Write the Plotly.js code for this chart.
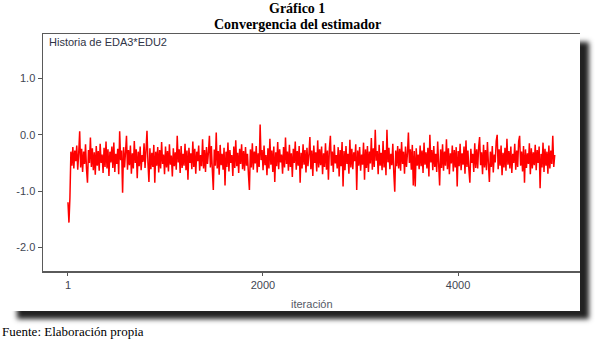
<!DOCTYPE html>
<html>
<head>
<meta charset="utf-8">
<script src="https://cdn.plot.ly/plotly-3.0.1.min.js"></script>
<style>
  html, body { margin: 0; padding: 0; background: #ffffff; }
  #wrap { position: relative; width: 595px; height: 339px; overflow: hidden; }
  #panel { position: absolute; left: 8px; top: 34px; width: 572px; height: 277px;
           background: #ffffff; box-shadow: 9px 8px 5px #222222; }
  #chart { position: absolute; left: 0; top: 0; width: 595px; height: 339px; }
</style>
</head>
<body>
<div id="wrap">
  <div id="panel"></div>
  <div id="chart"></div>
</div>
<script>
// Historia (traza MCMC) del coeficiente EDA3*EDU2, una muestra cada 10 iteraciones
const iteracionInicial = 1;
const pasoIteracion = 10;
const historiaEDA3EDU2 = [
  -1.2, -1.56, -1.12, -0.3, -0.55, -0.22, -0.6, -0.28, -0.47, -0.19, -0.62, -0.33, 0.06, -0.58, -0.25, -0.66, -0.3, -0.52, -0.17, -0.61,
  -0.85, -0.27, -0.5, -0.05, -0.57, -0.24, -0.63, -0.31, -0.71, -0.2, -0.55, -0.29, -0.64, -0.16, -0.5, -0.35, -0.68, -0.23, -0.57, -0.12,
  -0.6, -0.26, -0.73, -0.3, -0.49, -0.21, -0.59, -0.14, -0.66, -0.34, -0.52, -0.25, -0.7, 0.06, -0.45, -0.28, -1.03, -0.22, -0.58, -0.3,
  -0.02, -0.62, -0.27, -0.54, -0.19, -0.69, -0.33, -0.6, -0.11, -0.5, -0.26, -0.77, -0.3, -0.56, -0.21, -0.63, -0.36, -0.48, -0.15, -0.59,
  -0.28, 0.07, -0.5, -0.84, -0.24, -0.61, -0.32, -0.57, -0.18, -0.85, -0.3, -0.55, -0.22, -0.67, -0.27, -0.6, -0.13, -0.52, -0.35, -0.7,
  -0.21, -0.58, -0.29, -0.65, -0.17, -0.53, -0.37, -0.74, -0.24, -0.56, -0.31, -0.62, -0.02, -0.49, -0.26, -0.68, -0.2, -0.59, -0.34, -0.55,
  -0.16, -0.63, -0.28, -0.8, -0.23, -0.5, -0.33, -0.61, -0.12, -0.57, -0.25, -0.69, -0.3, -0.47, -0.19, -0.64, -0.36, -0.56, -0.08, -0.6,
  -0.27, -0.66, -0.22, -0.52, -0.31, -0.02, -0.58, -0.2, -0.63, -0.98, -0.26, -0.55, 0.04, -0.6, -0.29, -0.71, -0.18, -0.54, -0.34, -0.62,
  -0.23, -0.9, -0.3, -0.57, -0.14, -0.65, -0.27, -0.5, -0.36, -0.73, -0.21, -0.59, -0.1, -0.56, -0.32, -0.68, -0.25, -0.52, -0.17, -0.61,
  -0.29, -0.64, -0.22, -0.55, -0.34, -0.7, -0.98, -0.26, -0.58, -0.15, -0.62, -0.3, -0.51, -0.2, -0.67, -0.33, -0.57, 0.18, -0.45, -0.27,
  -0.63, -0.19, -0.54, -0.36, -0.72, -0.24, -0.6, -0.07, -0.53, -0.28, -0.66, -0.21, -0.84, -0.31, -0.56, -0.13, -0.61, -0.26, -0.49, -0.35,
  -0.69, -0.22, -0.58, -0.05, -0.52, -0.3, -0.64, -0.18, -0.57, -0.33, -0.75, -0.25, -0.5, -0.12, -0.62, -0.29, -0.55, -0.2, -0.85, -0.32,
  -0.6, -0.17, -0.53, -0.27, -0.67, -0.23, -0.56, -0.35, -0.04, -0.61, -0.28, -0.73, -0.19, -0.5, -0.31, -0.65, -0.1, -0.58, -0.26, -0.54,
  -0.21, -0.7, -0.33, -0.57, -0.15, -0.62, -0.28, -0.8, -0.24, -0.02, -0.55, -0.3, -0.66, -0.18, -0.51, -0.36, -0.6, -0.22, -0.74, -0.27,
  -0.56, -0.13, -0.92, -0.29, -0.63, -0.2, -0.52, -0.34, -0.69, -0.09, -0.58, -0.25, -0.61, -0.31, -0.47, -0.17, -0.98, -0.28, -0.55, -0.22,
  -0.64, -0.35, -0.53, -0.14, -0.8, -0.26, -0.59, -0.2, -0.66, -0.3, -0.51, -0.06, -0.62, -0.24, -0.57, 0.09, -0.46, -0.29, -0.7, -0.18,
  -0.55, -0.32, -0.63, -0.11, -0.58, -0.27, -0.72, 0.09, -0.49, -0.23, -0.61, -0.34, -0.54, -0.16, -0.67, -1.01, -0.28, -0.56, -0.2, -0.6,
  -0.25, -0.64, -0.13, -0.52, -0.3, -0.69, -0.21, -0.57, -0.33, 0.04, -0.5, -0.26, -0.62, -0.18, -0.9, -0.29, -0.92, -0.24, -0.55, -0.35,
  -0.61, -0.19, -0.56, -0.28, -0.68, -0.14, -0.53, -0.31, -0.6, -0.23, -0.74, 0.0, -0.49, -0.27, -0.63, -0.2, -0.57, -0.34, -0.66, -0.12,
  -0.52, -0.9, -0.26, -0.59, -0.17, -0.64, -0.3, -0.55, -0.08, -0.61, -0.24, -0.7, -0.33, -0.51, -0.19, -0.65, -0.27, -0.58, -0.22, -0.92,
  -0.29, -0.56, -0.16, -0.63, -0.33, -0.53, -0.21, -0.69, -0.1, -0.57, -0.28, -0.62, -0.85, -0.25, -0.5, -0.34, -0.66, -0.15, -0.59, -0.26,
  -0.6, -0.22, -0.04, -0.54, -0.31, -0.7, -0.18, -0.58, -0.27, -0.63, -0.13, -0.52, -0.84, -0.3, -0.57, -0.2, -0.67, -0.35, -0.49, -0.11,
  0.0, -0.61, -0.26, -0.55, -0.19, -0.72, -0.32, -0.58, -0.23, -0.64, -0.07, -0.53, -0.29, -0.6, -0.21, -0.68, -0.34, -0.5, -0.16, -0.62,
  -0.28, -0.57, -0.12, -0.02, -0.55, -0.3, -0.65, -0.2, -0.85, -0.26, -0.59, -0.33, -0.52, -0.15, -0.7, -0.24, -0.6, -0.31, -0.54, -0.18,
  -0.63, -0.27, -0.5, -0.21, -0.95, -0.34, -0.58, -0.14, -0.66, -0.25, -0.55, -0.3, -0.69, -0.19, -0.6, -0.28, -0.52, -0.02, -0.57, -0.36
];

const ticksX = [1, 2000, 4000];
const etiquetasX = ['1', '2000', '4000'];
const ticksY = [1, 0, -1, -2];
const etiquetasY = ['1.0', '0.0', '-1.0', '-2.0'];

const tituloLinea1 = 'Gráfico 1';
const tituloLinea2 = 'Convergencia del estimador';
const rotuloPanel = 'Historia de EDA3*EDU2';
const rotuloEjeX = 'iteración';
const fuente = 'Fuente: Elaboración propia';

const traza = {
  type: 'scatter',
  mode: 'lines',
  y: historiaEDA3EDU2,
  x0: iteracionInicial,
  dx: pasoIteracion,
  line: { color: '#ff0000', width: 1.5, simplify: false },
  hoverinfo: 'skip'
};

const serif = 'Liberation Serif, Times New Roman, serif';
const sans = 'Liberation Sans, Arial, sans-serif';

const layout = {
  width: 595,
  height: 339,
  margin: { l: 43, r: 15, t: 34, b: 68 },
  paper_bgcolor: 'rgba(0,0,0,0)',
  plot_bgcolor: 'rgba(0,0,0,0)',
  showlegend: false,
  xaxis: {
    range: [-255, 5250],
    tickmode: 'array',
    tickvals: ticksX,
    ticktext: etiquetasX,
    ticks: 'outside',
    ticklen: 3,
    tickcolor: '#555555',
    tickfont: { family: sans, size: 11, color: '#3f4552' },
    showgrid: false,
    zeroline: false,
    showline: true,
    linecolor: '#5a5a5a',
    linewidth: 1.5,
    mirror: true
  },
  yaxis: {
    range: [-2.42, 1.79],
    tickmode: 'array',
    tickvals: ticksY,
    ticktext: etiquetasY,
    ticks: 'outside',
    ticklen: 4,
    tickcolor: '#555555',
    tickfont: { family: sans, size: 11, color: '#3f4552' },
    showgrid: false,
    zeroline: false,
    showline: true,
    linecolor: '#5a5a5a',
    linewidth: 1.5
  },
  annotations: [
    { text: '<b>' + tituloLinea1 + '</b>', xref: 'paper', yref: 'paper', x: 0.473, y: 1.109,
      xanchor: 'center', yanchor: 'middle', showarrow: false,
      font: { family: serif, size: 14, color: '#000000' } },
    { text: '<b>' + tituloLinea2 + '</b>', xref: 'paper', yref: 'paper', x: 0.473, y: 1.042,
      xanchor: 'center', yanchor: 'middle', showarrow: false,
      font: { family: serif, size: 14, color: '#000000' } },
    { text: rotuloPanel, xref: 'paper', yref: 'paper', x: 0.008, y: 0.965,
      xanchor: 'left', yanchor: 'middle', showarrow: false,
      font: { family: sans, size: 11, color: '#2f3446' } },
    { text: rotuloEjeX, xref: 'paper', yref: 'paper', x: 0.5, y: -0.139,
      xanchor: 'center', yanchor: 'middle', showarrow: false,
      font: { family: sans, size: 11, color: '#555a66' } },
    { text: fuente, xref: 'paper', yref: 'paper', x: -0.0807, y: -0.257,
      xanchor: 'left', yanchor: 'middle', showarrow: false,
      font: { family: serif, size: 13, color: '#000000' } }
  ]
};

Plotly.newPlot('chart', [traza], layout, { displayModeBar: false, staticPlot: true });
</script>
</body>
</html>
